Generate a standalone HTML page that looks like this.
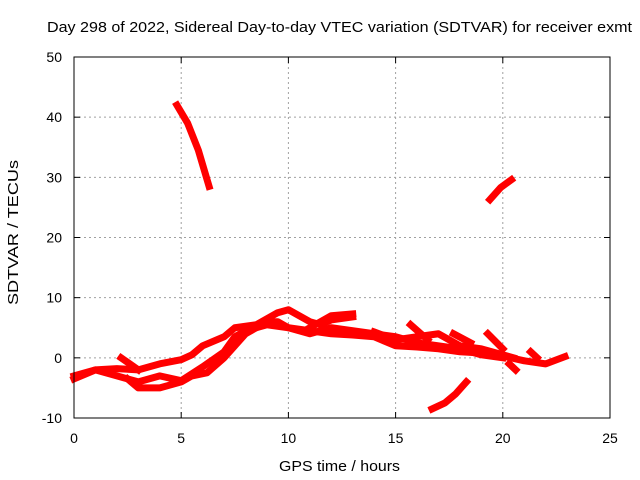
<!DOCTYPE html>
<html><head><meta charset="utf-8"><style>
body{margin:0;background:#fff}
svg{display:block;font-family:"Liberation Sans",sans-serif}
</style></head><body>
<svg id="chart" width="640" height="480" viewBox="0 0 640 480">
<rect width="640" height="480" fill="#fff"/>
<text x="47" y="32" font-size="15" textLength="585" lengthAdjust="spacingAndGlyphs" fill="#000">Day 298 of 2022, Sidereal Day-to-day VTEC variation (SDTVAR) for receiver exmt</text>
<g id="grid"></g>
<g id="ticks"></g>
<g id="series"></g>
<rect x="74" y="57" width="536" height="361" fill="none" stroke="#000" stroke-width="1"/>
<text x="279" y="471" font-size="15" textLength="121" lengthAdjust="spacingAndGlyphs">GPS time / hours</text>
<text transform="translate(18,305) rotate(-90)" font-size="15" textLength="145" lengthAdjust="spacingAndGlyphs">SDTVAR / TECUs</text>
</svg>
<script>
const xTicks=[0,5,10,15,20,25];
const yTicks=[-10,0,10,20,30,40,50];
const trackA=[[4.8,42],[5.3,39],[5.8,34.5],[6.3,28.5]];
const trackB=[[19.4,26.3],[19.9,28.3],[20.4,29.6]];
const trackC=[[16.7,-8.5],[17.3,-7.5],[17.8,-6],[18.3,-4]];
const track1=[[0,-3],[0.5,-2.5],[1,-2],[2,-1.8],[3,-2],[4,-1],[5,-0.3],[5.5,0.5],[6,2],[7,3.5],[7.5,5],[8.5,5.5],[9.5,7.5],[10,8],[10.5,7],[11,6],[11.5,5.5],[12,6.3],[13,6.8]];
const track2=[[0,-3.5],[1,-2],[2,-3],[3,-4],[4,-3],[5,-3.8],[6,-1.5],[7,1],[7.5,3.5],[8,4.5],[9,5.5],[10,5],[11,4.5],[12,4],[13,3.8],[14,3.5],[15,2],[16,1.8],[17,1.5],[18,1],[19,0.8],[20,0.3],[21,-0.5],[22,-1],[22.9,0.2]];
const track3=[[2.5,-3.5],[3,-5],[4,-5],[5,-4],[5.5,-3],[6.2,-2.5],[7,0],[7.5,2],[8,4],[9,6],[9.5,6],[10,5],[11,4],[12,5],[13,4.5],[14,4],[15,3.5],[16,2.5],[17,2],[18,1.5],[19,0.5],[20,0]];
const track4=[[11,5],[12,7],[13,7.3]];
const track5=[[14,4.3],[15,3],[16,3.5],[17,4],[18,2],[19,1.5],[20.5,0]];
const spur1=[[15.7,5.5],[16.5,3]];
const spur2=[[17.7,4],[18.5,2.5]];
const spur3=[[19.3,4],[20,1.5]];
const spur4=[[2.2,0],[3,-2]];
const spur5=[[21.3,1],[21.6,0]];
const spur6=[[20.3,-1],[20.6,-2]];
const tracks=[trackA,trackB,trackC,track1,track2,track3,track4,track5,spur1,spur2,spur3,spur4,spur5,spur6];
const X0=74,X1=610,Y0=418,Y1=57;
function sx(h){return X0+(h-0)/25*(X1-X0);}
function sy(v){return Y0-(v+10)/60*(Y0-Y1);}
const NS="http://www.w3.org/2000/svg";
const grid=document.getElementById('grid'),ticks=document.getElementById('ticks'),series=document.getElementById('series');
function mk(tag,attrs,parent){const e=document.createElementNS(NS,tag);for(const k in attrs)e.setAttribute(k,attrs[k]);parent.appendChild(e);return e;}
xTicks.forEach(t=>{const x=sx(t);
 if(t>0&&t<25){const g=mk('line',{x1:x,x2:x,y1:Y1,y2:Y0,stroke:'#a0a0a0','stroke-dasharray':'2,3'},grid);
 
 }
 const a=mk('line',{x1:x,x2:x,y1:Y0,y2:Y0-6,stroke:'#000'},ticks);
 
 
 mk('line',{x1:x,x2:x,y1:Y1,y2:Y1+6,stroke:'#000'},ticks);
 const l=mk('text',{x:x,y:443,'font-size':14,'text-anchor':'middle'},ticks);l.textContent=t;
 
 });
yTicks.forEach(t=>{const y=sy(t);
 if(t>-10&&t<50){const g=mk('line',{x1:X0,x2:X1,y1:y,y2:y,stroke:'#a0a0a0','stroke-dasharray':'2,3'},grid);
 
 }
 const a=mk('line',{x1:X0,x2:X0+6,y1:y,y2:y,stroke:'#000'},ticks);
 
 
 mk('line',{x1:X1,x2:X1-6,y1:y,y2:y,stroke:'#000'},ticks);
 const l=mk('text',{x:62,y:y+5,'font-size':14,'text-anchor':'end'},ticks);l.textContent=t;
 
 });
tracks.forEach(tr=>{const p=mk('polyline',{points:tr.map(d=>sx(d[0])+','+sy(d[1])).join(' '),fill:'none',stroke:'#ff0000','stroke-width':7,'stroke-linejoin':'round','stroke-linecap':'square'},series);
 
 });
</script>
</body></html>
